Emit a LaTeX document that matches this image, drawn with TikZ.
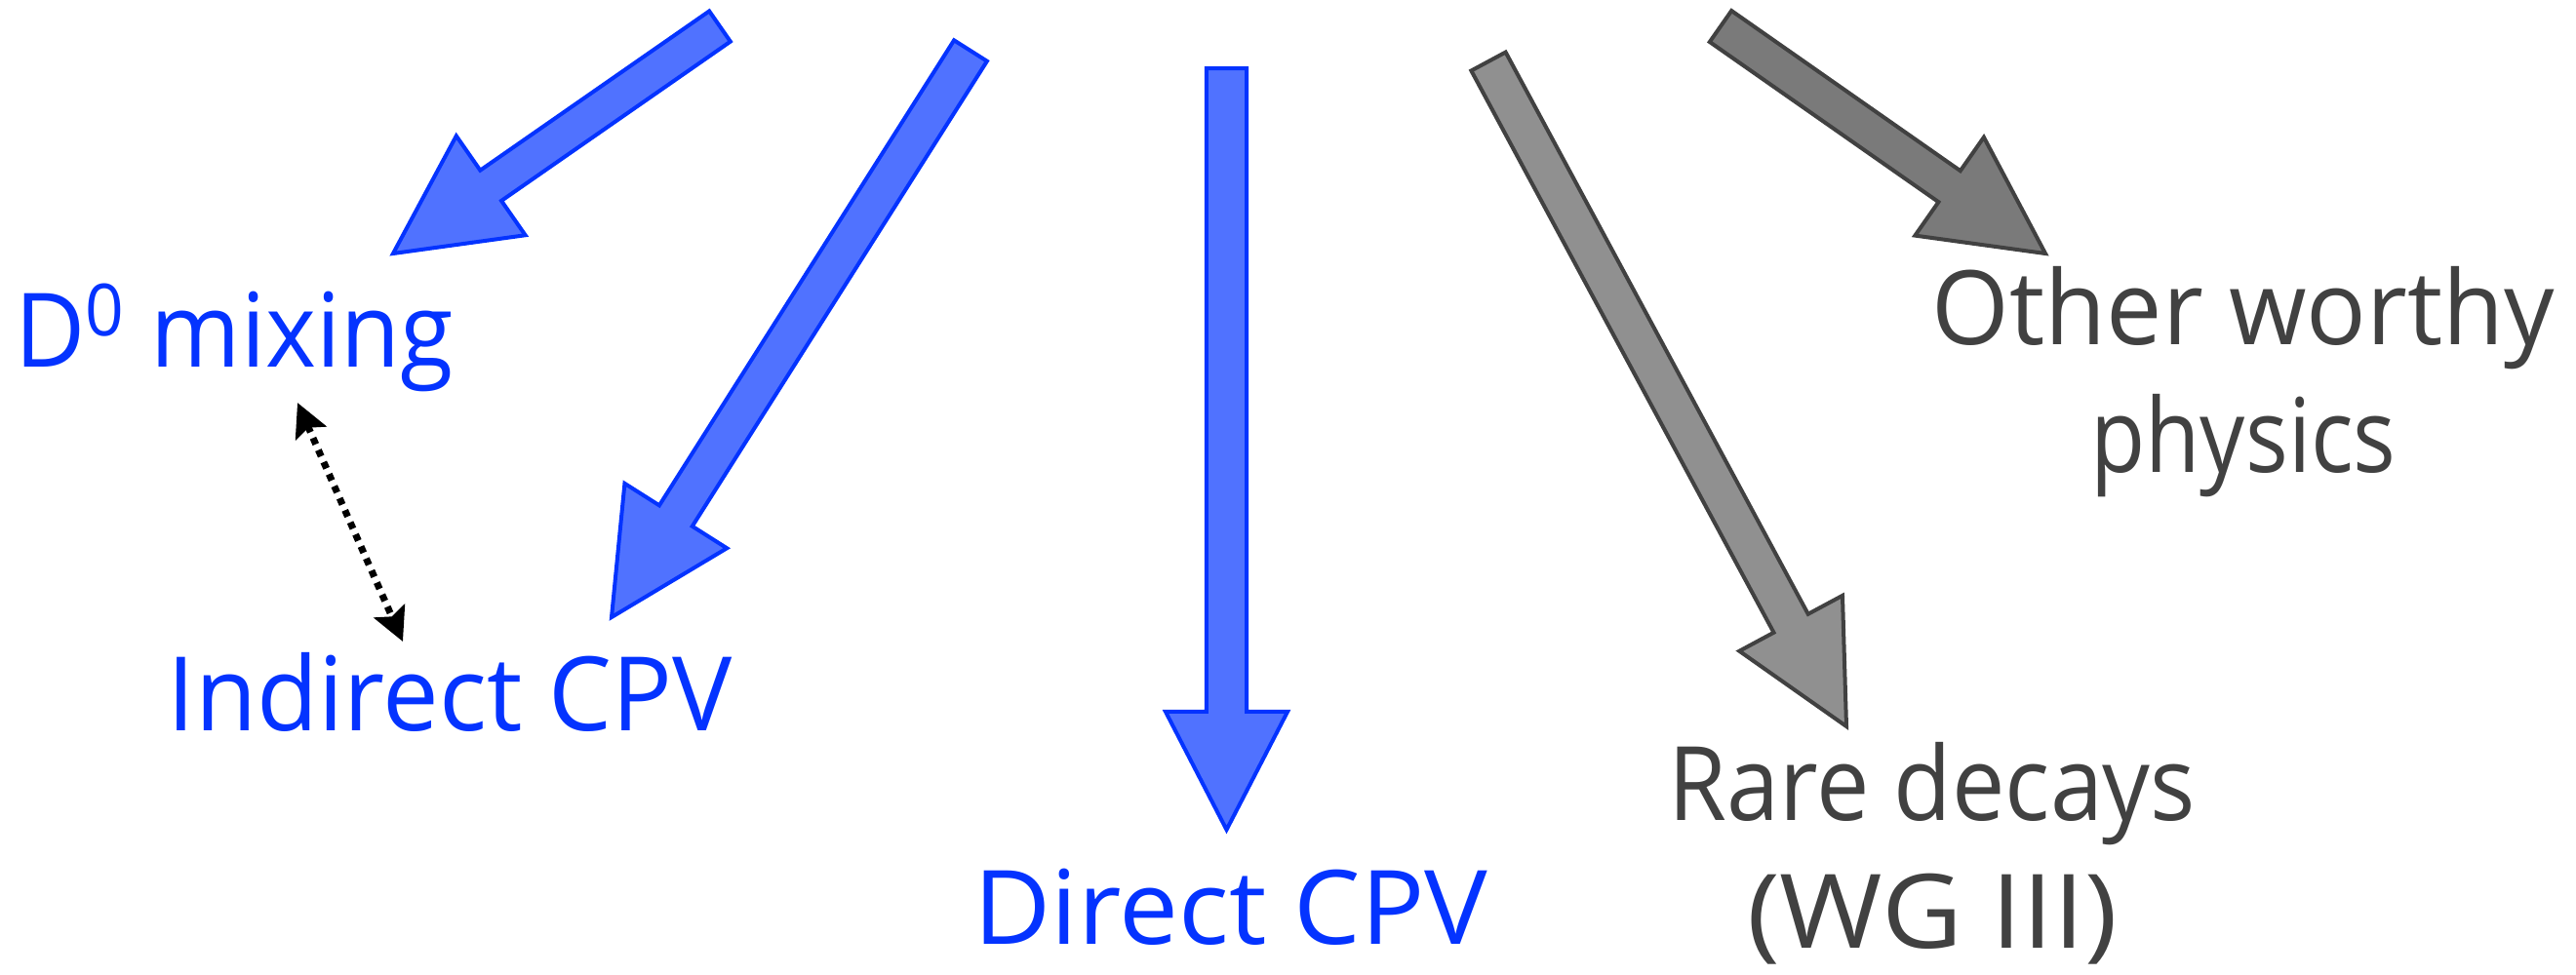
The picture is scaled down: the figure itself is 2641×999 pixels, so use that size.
\documentclass[tikz,border=0pt]{standalone}
\usepackage{fontspec}
\setmainfont{Open Sans}
\usetikzlibrary{calc,arrows.meta}

\definecolor{labelblue}{RGB}{4,51,255}
\definecolor{arrowblue}{RGB}{80,114,255}
\definecolor{labelgray}{RGB}{65,65,65}
\definecolor{lightgrayfill}{RGB}{144,144,144}
\definecolor{darkgrayfill}{RGB}{122,122,122}

% horizontal fitting of one line of a label
\newcommand{\squeeze}[2]{\scalebox{#1}[1]{#2}}

% Block arrow: #1 style, #2 start coordinate, #3 tip coordinate,
% #4 half shaft width, #5 half head width, #6 head length
\newcommand{\blockarrow}[6]{%
  \coordinate (#2-neck) at ($(#3)!#6!(#2)$);
  \draw[#1]
    ($(#2)!#4!90:(#3)$) --
    ($(#2-neck)!#4!90:(#3)$) --
    ($(#2-neck)!#5!90:(#3)$) --
    (#3) --
    ($(#2-neck)!#5!-90:(#3)$) --
    ($(#2-neck)!#4!-90:(#3)$) --
    ($(#2)!#4!-90:(#3)$) -- cycle;
}

\tikzset{
  bluearrow/.style={fill=arrowblue, draw=labelblue, line width=0.04cm, line join=miter},
  lightarrow/.style={fill=lightgrayfill, draw=labelgray, line width=0.04cm, line join=miter},
  darkarrow/.style={fill=darkgrayfill, draw=labelgray, line width=0.04cm, line join=miter},
  topic/.style={anchor=base, inner sep=0pt, align=center,
    font=\fontsize{30pt}{37.1pt}\selectfont},
  bluetopic/.style={topic, text=labelblue},
  graytopic/.style={topic, text=labelgray},
  linkarrow/.style={draw=black, line width=0.07cm, dash pattern=on 0.07cm off 0.065cm,
    {Stealth[length=0.34cm,width=0.34cm,inset=0.06cm]}-{Stealth[length=0.34cm,width=0.34cm,inset=0.06cm]}}
}

\begin{document}
\begin{tikzpicture}[x=0.01cm, y=-0.01cm]
  \useasboundingbox (0,0) rectangle (2641,999);

  % topic labels (multi-line labels sit on the baseline of their last line)
  \node[bluetopic] (dmix) at (240,376) {\squeeze{0.94}{D\textsuperscript{0} mixing}};
  \node[bluetopic] (icpv) at (461,749) {\squeeze{0.975}{Indirect CPV}};
  \node[bluetopic] (dcpv) at (1262,968) {\squeeze{1.03}{Direct CPV}};
  \node[graytopic] (rare) at (1981,972) {\squeeze{0.92}{Rare decays}\\\squeeze{1.08}{(WG III)}};
  \node[graytopic] (other) at (2300,484) {\squeeze{0.97}{Other worthy}\\\squeeze{0.87}{physics}};

  % arrow end points
  \coordinate (mixfrom) at (738,27);
  \coordinate (mixto) at (403,260);
  \coordinate (indfrom) at (995,52);
  \coordinate (indto) at (627,633);
  \coordinate (dirfrom) at (1257.5,70);
  \coordinate (dirto) at (1257.5,851);
  \coordinate (rarefrom) at (1526,63);
  \coordinate (rareto) at (1893,745);
  \coordinate (othfrom) at (1764,27);
  \coordinate (othto) at (2097,260);

  \blockarrow{bluearrow}{mixfrom}{mixto}{0.19cm}{0.62cm}{1.22cm}
  \blockarrow{bluearrow}{indfrom}{indto}{0.2cm}{0.62cm}{1.23cm}
  \blockarrow{bluearrow}{dirfrom}{dirto}{0.205cm}{0.625cm}{1.21cm}
  \blockarrow{lightarrow}{rarefrom}{rareto}{0.2cm}{0.6cm}{1.2cm}
  \blockarrow{darkarrow}{othfrom}{othto}{0.195cm}{0.615cm}{1.2cm}

  % link between mixing and indirect CPV
  \coordinate (linktop) at (305,413);
  \coordinate (linkbot) at (413,658);
  \draw[linkarrow] (linktop) -- (linkbot);
\end{tikzpicture}
\end{document}
